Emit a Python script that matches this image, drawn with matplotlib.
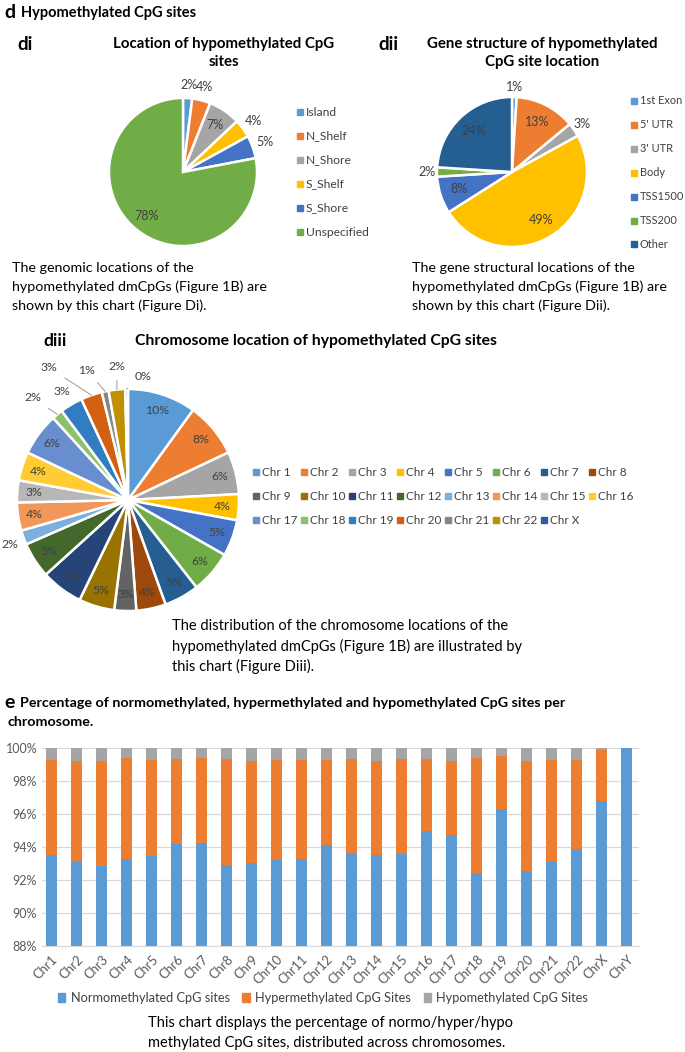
import matplotlib
matplotlib.use("Agg")
import matplotlib.pyplot as plt
from matplotlib.patches import Rectangle, Patch
import numpy as np

plt.rcParams['font.family'] = ['Lato', 'DejaVu Sans']

# ---- data ----
loc_labels = ['Island', 'N_Shelf', 'N_Shore', 'S_Shelf', 'S_Shore', 'Unspecified']
loc_values = [2, 4, 7, 4, 5, 78]
loc_colors = ['#5B9BD5', '#ED7D31', '#A5A5A5', '#FFC000', '#4472C4', '#70AD47']
loc_outside = [True, True, False, True, True, False]

gene_labels = ['1st Exon', "5' UTR", "3' UTR", 'Body', 'TSS1500', 'TSS200', 'Other']
gene_values = [1, 13, 3, 49, 8, 2, 24]
gene_colors = ['#5B9BD5', '#ED7D31', '#A5A5A5', '#FFC000', '#4472C4', '#70AD47', '#255E91']
gene_outside = [True, False, True, False, False, True, False]

chr_labels = ['Chr 1', 'Chr 2', 'Chr 3', 'Chr 4', 'Chr 5', 'Chr 6', 'Chr 7', 'Chr 8',
              'Chr 9', 'Chr 10', 'Chr 11', 'Chr 12', 'Chr 13', 'Chr 14', 'Chr 15', 'Chr 16',
              'Chr 17', 'Chr 18', 'Chr 19', 'Chr 20', 'Chr 21', 'Chr 22', 'Chr X']
chr_values = [10.0, 8.0, 6.2, 3.8, 5.3, 6.2, 5.1, 4.3, 3.2, 5.2, 6.1, 5.2, 2.1, 4.1, 3.2, 4.2,
              6.2, 1.6, 3.3, 3.1, 1.0, 2.4, 0.4]
chr_colors = ['#5B9BD5', '#ED7D31', '#A5A5A5', '#FFC000', '#4472C4', '#70AD47', '#255E91', '#9E480E',
              '#636363', '#997300', '#264478', '#43682B', '#7CAFDD', '#F1975A', '#B7B7B7', '#FFCD33',
              '#698ED0', '#8CC168', '#327DC2', '#D26012', '#848484', '#BF9000', '#335AA1']
# outside label offsets (in pie radii) : index -> (x, y, leader line)
chr_outside = {12: (-1.06, -0.40, False), 17: (-0.86, 0.92, True), 18: (-0.60, 0.98, False),
               19: (-0.71, 1.19, True), 20: (-0.37, 1.17, True), 21: (-0.10, 1.20, True),
               22: (0.14, 1.11, True)}

bar_cats = ['Chr1', 'Chr2', 'Chr3', 'Chr4', 'Chr5', 'Chr6', 'Chr7', 'Chr8', 'Chr9', 'Chr10',
            'Chr11', 'Chr12', 'Chr13', 'Chr14', 'Chr15', 'Chr16', 'Chr17', 'Chr18', 'Chr19',
            'Chr20', 'Chr21', 'Chr22', 'ChrX', 'ChrY']
normo = [93.54, 93.10, 92.87, 93.29, 93.45, 94.18, 94.26, 92.90, 93.03, 93.19, 93.29, 94.14,
         93.62, 93.54, 93.60, 94.99, 94.73, 92.42, 96.32, 92.53, 93.07, 93.86, 96.79, 100.0]
hyper = [5.75, 6.13, 6.36, 6.12, 5.84, 5.15, 5.15, 6.43, 6.20, 6.10, 5.98, 5.15,
         5.73, 5.65, 5.73, 4.34, 4.46, 6.99, 3.20, 6.70, 6.22, 5.43, 3.11, 0.0]
hypo = [0.71, 0.77, 0.77, 0.59, 0.71, 0.67, 0.59, 0.67, 0.77, 0.71, 0.73, 0.71,
        0.65, 0.81, 0.67, 0.67, 0.81, 0.59, 0.48, 0.77, 0.71, 0.71, 0.10, 0.0]
bar_series = ['Normomethylated CpG sites', 'Hypermethylated CpG Sites', 'Hypomethylated CpG Sites']
bar_colors = ['#5B9BD5', '#ED7D31', '#A5A5A5']

W, H = 685, 1052
fig = plt.figure(figsize=(W / 100, H / 100), dpi=100)


def fx(x):
    return x / W


def fy(y):
    return 1 - y / H


def txt(x, y, s, **kw):
    kw.setdefault('va', 'center')
    fig.text(fx(x), fy(y), s, **kw)


def pie_axes(cx, cy, r):
    return fig.add_axes([fx(cx - r), fy(cy + r), 2 * r / W, 2 * r / H])


def draw_pie(ax, values, colors, in_r, outside=None, out_r=1.17, fs=9):
    wedges, _ = ax.pie(values, colors=colors, startangle=90, counterclock=False,
                       wedgeprops=dict(edgecolor='white', linewidth=1.8))
    ax.set_xlim(-1, 1)
    ax.set_ylim(-1, 1)
    total = sum(values)
    for i, (w, v) in enumerate(zip(wedges, values)):
        a = np.deg2rad((w.theta1 + w.theta2) / 2)
        lab = f"{round(v / total * 100)}%"
        if isinstance(outside, dict):
            if i in outside:
                ox, oy, leader = outside[i]
                if leader:
                    ax.annotate(lab, xy=(np.cos(a), np.sin(a)), xytext=(ox, oy),
                                ha='center', va='center', fontsize=fs, color='#404040',
                                arrowprops=dict(arrowstyle='-', color='#A6A6A6', lw=0.8,
                                                shrinkA=4, shrinkB=0))
                else:
                    ax.text(ox, oy, lab, ha='center', va='center', fontsize=fs, color='#404040')
                continue
            rr = in_r
        else:
            rr = out_r if outside[i] else in_r
        ax.text(rr * np.cos(a), rr * np.sin(a), lab, ha='center', va='center',
                fontsize=fs, color='#404040')


def square_legend(labels, colors, x0, y0, dx, dy, ncol, fs=9):
    for i, (lab, c) in enumerate(zip(labels, colors)):
        col, row = i % ncol, i // ncol
        x = x0 + col * dx
        y = y0 + row * dy
        fig.patches.append(Rectangle((fx(x - 3), fy(y + 3)), 6 / W, 6 / H,
                                     transform=fig.transFigure, color=c))
        txt(x + 6, y, lab, fontsize=fs, color='#404040')


# ---- header ----
txt(4, 12, 'd', fontsize=14, fontweight='bold')
txt(21, 13, 'Hypomethylated CpG sites', fontsize=10.5, fontweight='bold')

# ---- di ----
txt(17, 45, 'di', fontsize=13.5, fontweight='bold')
txt(224, 44, 'Location of hypomethylated CpG', fontsize=10.8, fontweight='bold', ha='center')
txt(224, 62, 'sites', fontsize=10.8, fontweight='bold', ha='center')
ax1 = pie_axes(183, 172, 74)
draw_pie(ax1, loc_values, loc_colors, 0.77, loc_outside, out_r=1.18)
square_legend(loc_labels, loc_colors, 300, 112, 0, 24, 1, fs=8.7)
for i, line in enumerate(['The genomic locations of the',
                          'hypomethylated dmCpGs (Figure 1B) are',
                          'shown by this chart (Figure Di).']):
    txt(12, 268 + 19 * i, line, fontsize=10.3)

# ---- dii ----
txt(378, 45, 'dii', fontsize=13.5, fontweight='bold')
txt(542, 44, 'Gene structure of hypomethylated', fontsize=10.8, fontweight='bold', ha='center')
txt(542, 62, 'CpG site location', fontsize=10.8, fontweight='bold', ha='center')
ax2 = pie_axes(512, 172, 75)
draw_pie(ax2, gene_values, gene_colors, 0.75, gene_outside, out_r=1.13)
square_legend(gene_labels, gene_colors, 634, 101, 0, 23.9, 1, fs=7.9)
for i, line in enumerate(['The gene structural locations of the',
                          'hypomethylated dmCpGs (Figure 1B) are',
                          'shown by this chart (Figure Dii).']):
    txt(412, 268 + 19 * i, line, fontsize=10.3)

# ---- diii ----
txt(43, 341, 'diii', fontsize=12.5, fontweight='bold')
txt(316, 341, 'Chromosome location of hypomethylated CpG sites', fontsize=11.3,
    fontweight='bold', ha='center')
ax3 = pie_axes(128, 500, 111)
draw_pie(ax3, chr_values, chr_colors, 0.85, chr_outside, fs=8.8)
square_legend(chr_labels, chr_colors, 256, 472, 48, 24, 8, fs=8.5)
for i, line in enumerate(['The distribution of the chromosome locations of the',
                          'hypomethylated dmCpGs (Figure 1B) are illustrated by',
                          'this chart (Figure Diii).']):
    txt(172, 626 + 20 * i, line, fontsize=10.5)

# ---- e ----
txt(4, 702, 'e', fontsize=14, fontweight='bold')
txt(20, 703, 'Percentage of normomethylated, hypermethylated and hypomethylated CpG sites per',
    fontsize=10.3, fontweight='bold')
txt(7, 722, 'chromosome.', fontsize=10.3, fontweight='bold')

axe = fig.add_axes([fx(42), fy(946), (639 - 42) / W, (946 - 748) / H])
xpos = np.arange(len(bar_cats))
bottom = np.zeros(len(bar_cats))
for vals, c, name in zip([normo, hyper, hypo], bar_colors, bar_series):
    axe.bar(xpos, vals, width=0.44, bottom=bottom, color=c, label=name, zorder=2)
    bottom = bottom + np.array(vals)
axe.set_ylim(88, 100)
axe.set_xlim(-0.38, 23.48)
axe.set_yticks(np.arange(88, 101, 2))
axe.set_yticklabels([f"{v}%" for v in range(88, 101, 2)], fontsize=9, color='#595959')
axe.set_xticks(xpos)
axe.set_xticklabels(bar_cats, rotation=45, ha='right', rotation_mode='anchor', fontsize=9.3,
                    color='#595959')
axe.tick_params(length=0)
axe.tick_params(axis='x', pad=5)
axe.grid(axis='y', color='#D9D9D9', lw=0.9, zorder=0)
for s in ['top', 'right', 'left']:
    axe.spines[s].set_visible(False)
axe.spines['bottom'].set_color('#D9D9D9')

handles = [Patch(color=c) for c in bar_colors]
fig.legend(handles, bar_series, loc='center', bbox_to_anchor=(fx(323), fy(998)), ncol=3,
           frameon=False, fontsize=9.2, handlelength=0.6, handleheight=0.6, handletextpad=0.4,
           columnspacing=1.0, labelcolor='#404040')

for i, line in enumerate(['This chart displays the percentage of normo/hyper/hypo',
                          'methylated CpG sites, distributed across chromosomes.']):
    txt(148, 1023 + 20 * i, line, fontsize=10.5)

fig.savefig('out.png', dpi=100)
